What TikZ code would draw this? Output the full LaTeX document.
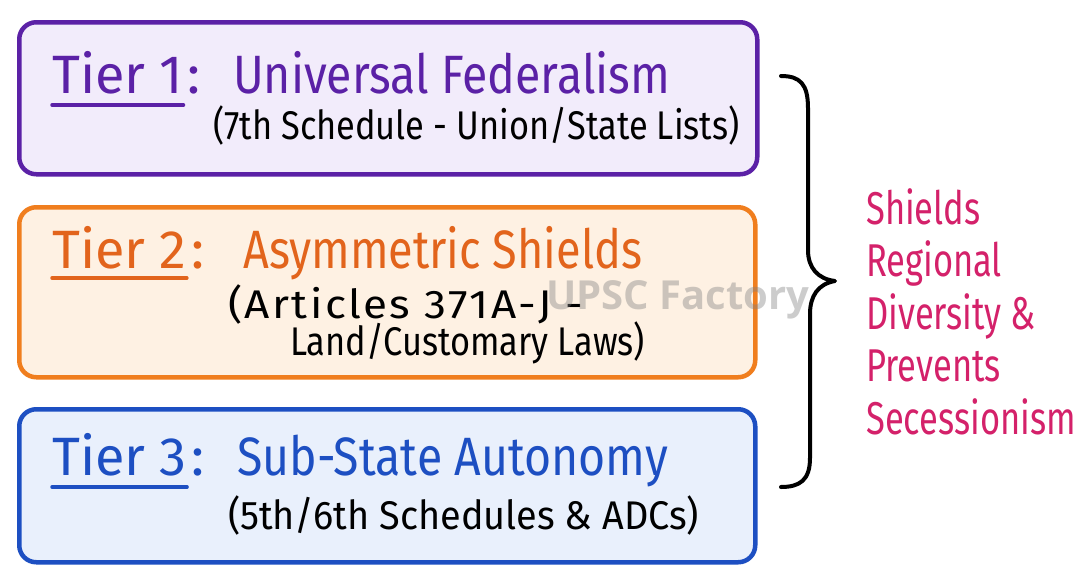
\documentclass[tikz,border=0pt]{standalone}
\usepackage{fontspec}
\setmainfont[FakeStretch=0.86]{Fira Sans}
\newfontfamily\tierfont{Fira Sans}
\newfontfamily\narrowfont[FakeStretch=0.75]{Fira Sans}
\newfontfamily\widefont[LetterSpace=5.5]{Fira Sans}
\newfontfamily\wmfont{Open Sans}
\definecolor{purp}{HTML}{5B21A6}
\definecolor{purpfill}{HTML}{F2ECFB}
\definecolor{orng}{HTML}{F07E1E}
\definecolor{orngtxt}{HTML}{E2641C}
\definecolor{orngfill}{HTML}{FEF1E3}
\definecolor{blu}{HTML}{1D4FC2}
\definecolor{blufill}{HTML}{E9F0FC}
\definecolor{pinkt}{HTML}{D4216A}
\tikzset{
  tierbox/.style={draw, line width=4.5pt, rounded corners=17pt, inner sep=0pt, anchor=north west},
  tiertitle/.style={anchor=base west, inner sep=0pt, font=\fontsize{54}{60}\selectfont},
  tierlabel/.style={anchor=base west, inner sep=0pt, font=\tierfont\fontsize{54}{60}\selectfont},
  subtxt/.style={anchor=base west, inner sep=0pt, text=black, font=\fontsize{40}{46}\selectfont},
  uline/.style={line width=3.5pt, line cap=round},
  bracepath/.style={draw=black, line width=4pt, line cap=round, line join=round},
}
\begin{document}
\begin{tikzpicture}[x=1pt,y=-1pt]
\useasboundingbox (0,0) rectangle (1080,576);
\fill[white] (0,0) rectangle (1080,576);

% boxes
\node[tierbox, draw=purp, fill=purpfill, minimum width=738pt, minimum height=152pt] (b1) at (17,20) {};
\node[tierbox, draw=orng, fill=orngfill, minimum width=736pt, minimum height=170pt] (b2) at (17,205) {};
\node[tierbox, draw=blu, fill=blufill, minimum width=736pt, minimum height=153pt] (b3) at (17,407) {};

% Tier 1
\node[tierlabel, text=purp] (k1) at (52,93) {Tier 1};
\node[tierlabel, text=purp, anchor=base west] (c1) at ([xshift=4pt]k1.base east) {:};
\draw[uline, draw=purp] ([yshift=-12pt]k1.base west) -- ([yshift=-12pt]k1.base east);
\node[tiertitle, text=purp] (n1) at (233,93) {Universal Federalism};
\node[subtxt] (s1) at (213,139) {(7th Schedule - Union/State Lists)};

% Tier 2
\node[tierlabel, text=orngtxt] (k2) at (52,268) {Tier 2};
\node[tierlabel, text=orngtxt, anchor=base west] (c2) at ([xshift=4pt]k2.base east) {:};
\draw[uline, draw=orngtxt] ([yshift=-10pt]k2.base west) -- ([yshift=-10pt]k2.base east);
\node[tiertitle, text=orngtxt] (n2) at (243,268) {\scalebox{0.97}[1]{Asymmetric Shields}};
\node[subtxt, font=\widefont\fontsize{40}{46}\selectfont] (s2a) at (228,318) {\scalebox{1.1}[1]{(Articles 371A-J -}};
\node[subtxt] (s2b) at (290,355) {Land/Customary Laws)};

% Tier 3
\node[tierlabel, text=blu] (k3) at (52,475) {Tier 3};
\node[tierlabel, text=blu, anchor=base west] (c3) at ([xshift=4pt]k3.base east) {:};
\draw[uline, draw=blu] ([yshift=-12pt]k3.base west) -- ([yshift=-12pt]k3.base east);
\node[tiertitle, text=blu] (n3) at (237,475) {Sub-State Autonomy};
\node[subtxt] (s3) at (228,529) {\scalebox{1.1}[1]{(5th/6th Schedules \& ADCs)}};

% watermark
\node[inner sep=0pt, text=gray, opacity=0.4, font=\wmfont\bfseries\fontsize{40}{44}\selectfont] (wm) at (678,300) {UPSC Factory};

% brace
\coordinate (bt) at (781,76);
\coordinate (bm) at (835,281);
\coordinate (bb) at (781,487);
\draw[bracepath] (bt) .. controls (800,76) and (808,84) .. (808,108)
  -- (808,250) .. controls (808,268) and (818,279) .. (bm)
  .. controls (818,284) and (810,296) .. (810,314)
  -- (810,458) .. controls (810,480) and (800,487) .. (bb);

% right text
\node[anchor=north west, inner sep=0pt, align=left, text=pinkt, font=\narrowfont\fontsize{46}{52.5}\selectfont] (rt) at (866,188)
  {Shields\\Regional\\Diversity \&\\Prevents\\Secessionism};
\end{tikzpicture}
\end{document}
